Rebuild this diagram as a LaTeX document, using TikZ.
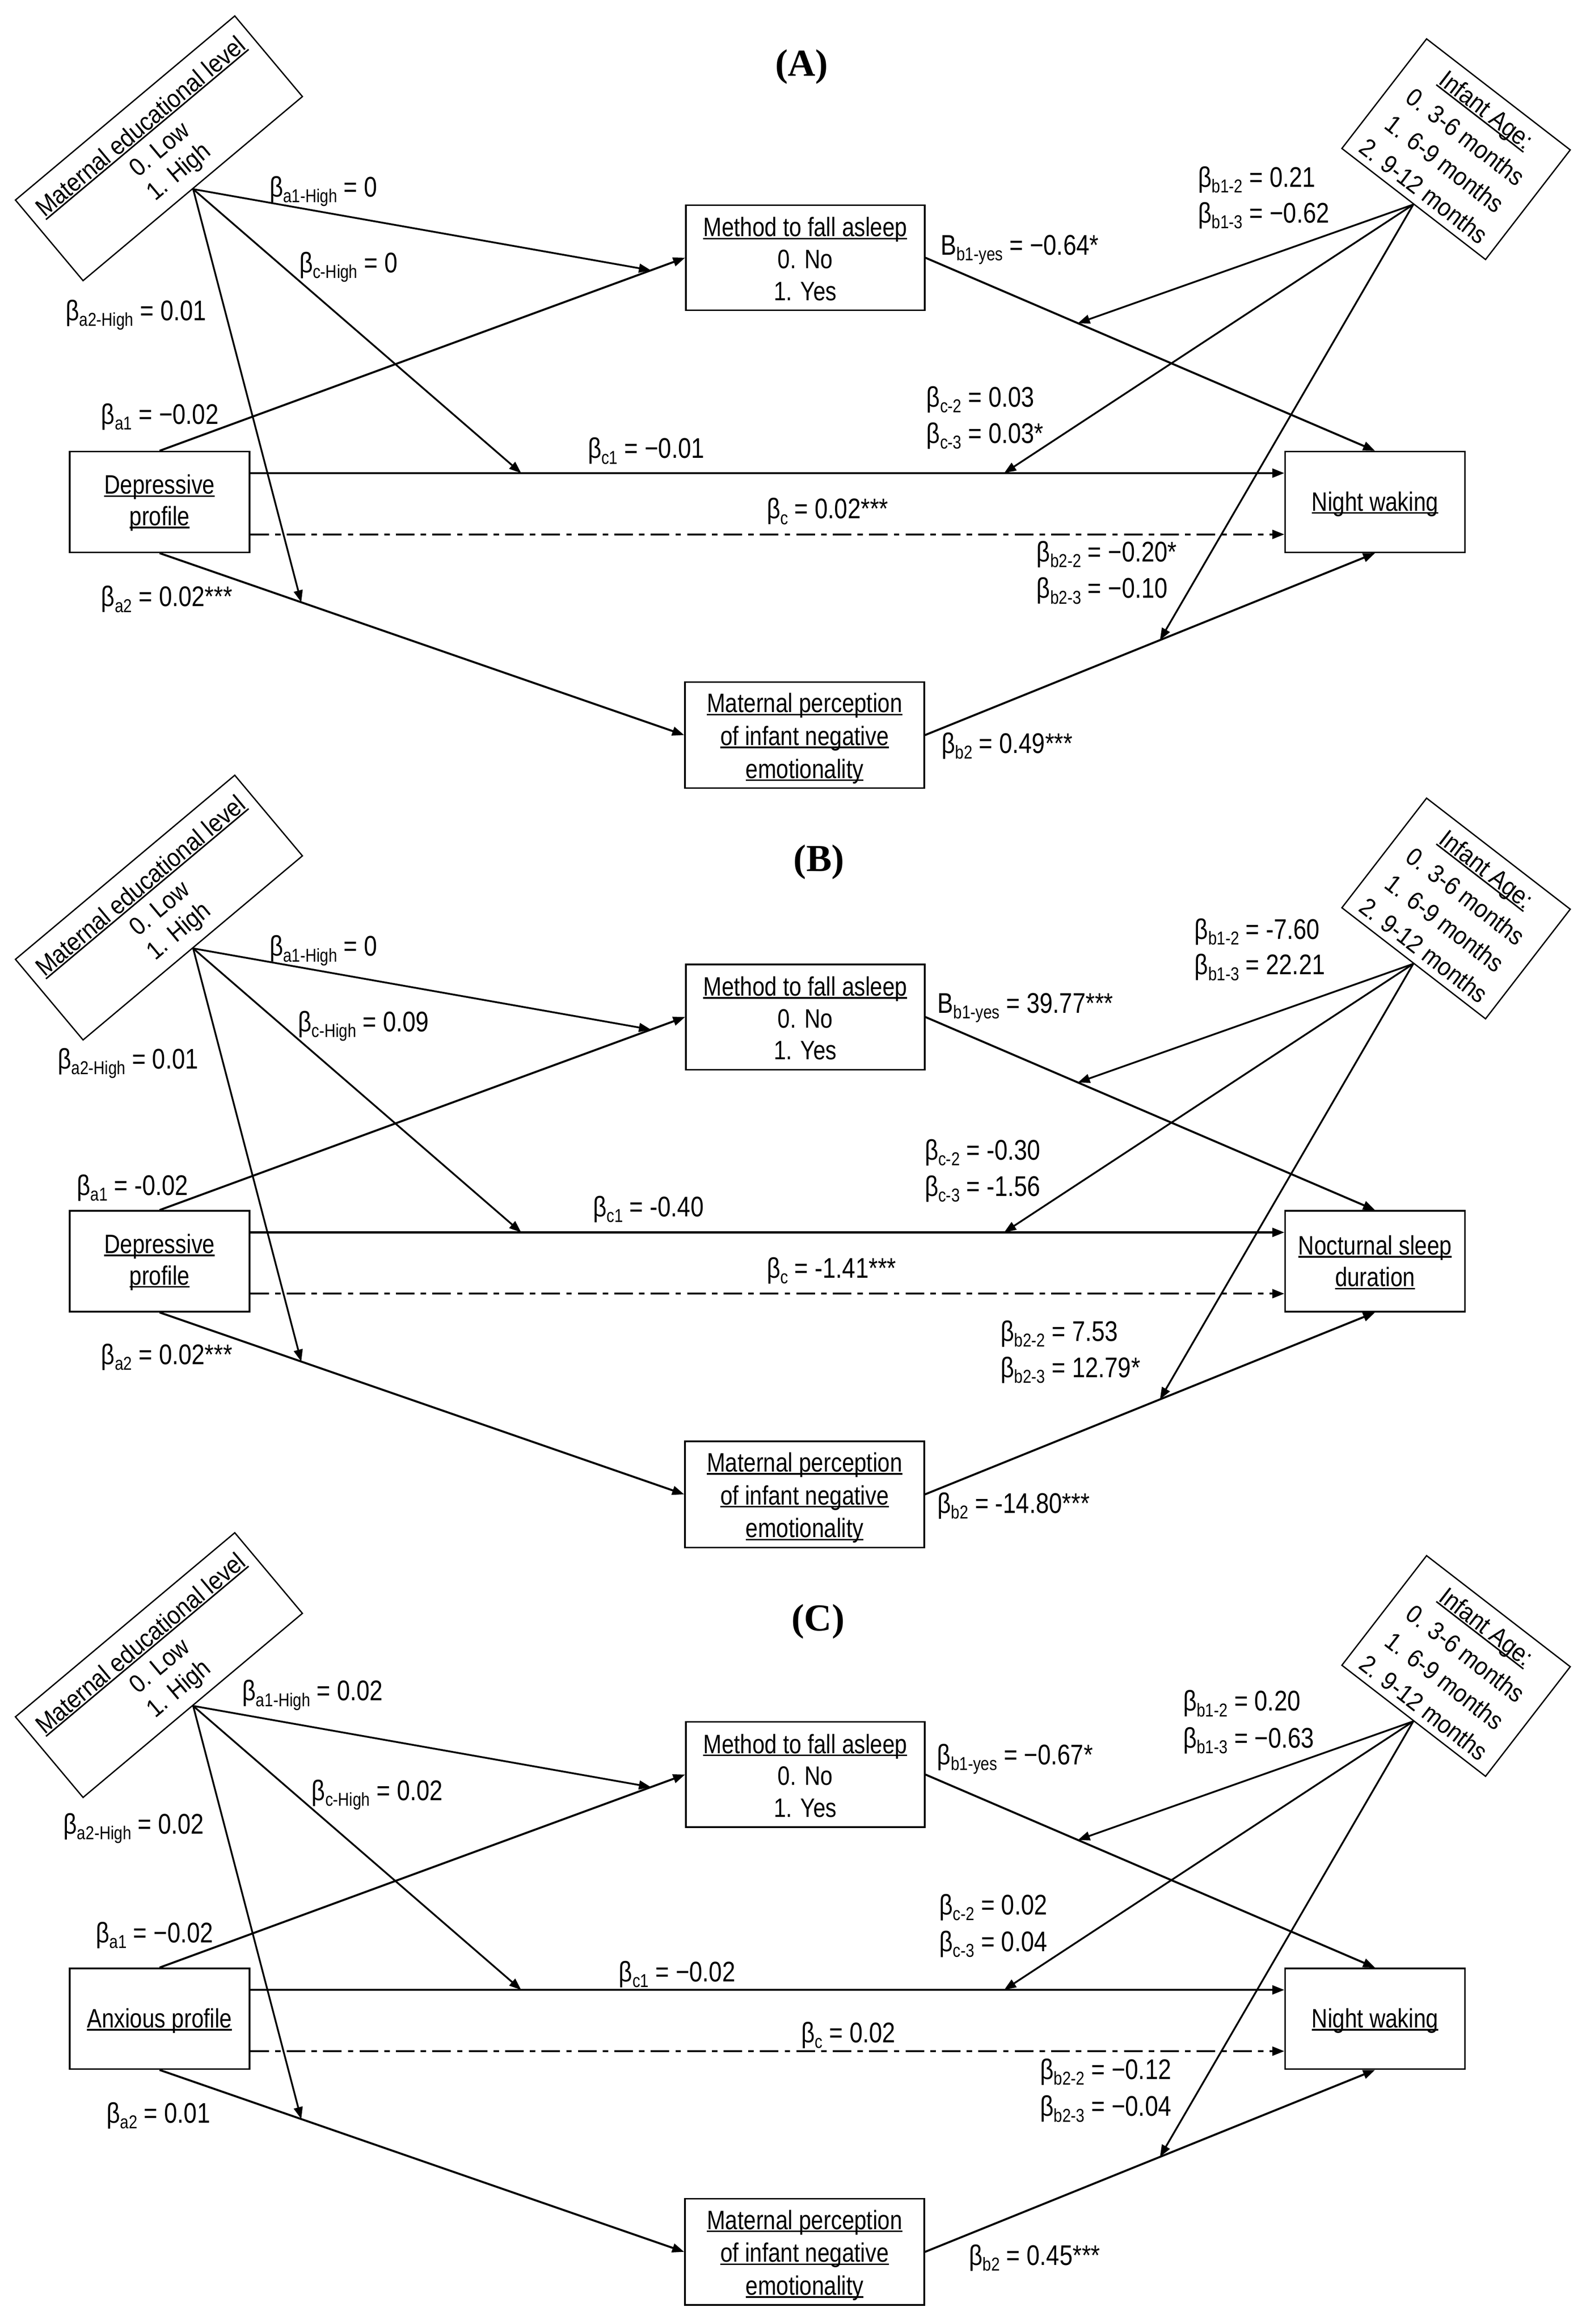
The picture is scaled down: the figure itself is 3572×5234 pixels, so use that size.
\documentclass[tikz,border=0pt]{standalone}
\usepackage{fontspec}
\setmainfont{Liberation Sans}[FakeStretch=0.83]
\newfontfamily\rotfont{Liberation Sans}[FakeStretch=0.9]
\newfontfamily\titlefont{Liberation Serif}
\usetikzlibrary{arrows.meta,calc}
\newlength\ulw
\newcommand\ul[1]{\settowidth{\ulw}{#1}\makebox[0pt][l]{\rule[-0.11em]{\ulw}{0.06em}}#1}
\newcommand\bsub[2]{#1\raisebox{-0.2em}{\fontsize{42}{44}\selectfont #2}}
\tikzset{
 bx/.style={draw, line width=3.5pt, rectangle, inner sep=0pt},
 rbx/.style={draw, line width=3pt, rectangle, inner sep=0pt},
 tx/.style={inner sep=0pt, anchor=base, font=\fontsize{60}{70}\selectfont},
 etx/.style={inner sep=0pt, anchor=center, align=center, font=\rotfont\fontsize{57}{66}\selectfont},
 atx/.style={inner sep=0pt, anchor=center, align=center, font=\rotfont\fontsize{57}{77}\selectfont},
 lab/.style={inner sep=0pt, anchor=base west, font=\fontsize{64}{74}\selectfont},
 pth/.style={line width=4.5pt, -{Triangle[length=27pt,width=20pt]}},
 mod/.style={line width=4pt, -{Triangle[length=27pt,width=20pt]}},
 dd/.style={pth, dash pattern=on 42pt off 14pt on 12pt off 14pt},
 ttl/.style={font=\titlefont\bfseries\fontsize{86}{90}\selectfont, inner sep=0pt}
}
\newcommand\panel[2]{%
 \node[rbx, minimum width=645pt, minimum height=237pt, rotate=40] (edu#1) at (358,#2+334) {};
 \node[rbx, minimum width=409pt, minimum height=312pt, rotate=-37.7] (age#1) at (3280,#2+336) {};
 \node[bx, minimum width=538pt, minimum height=237pt] (meth#1) at (1814,#2+580.5) {};
 \node[bx, minimum width=405pt, minimum height=227pt] (dep#1) at (359.5,#2+1130.5) {};
 \node[bx, minimum width=405pt, minimum height=227pt] (out#1) at (3097.5,#2+1130.5) {};
 \node[bx, minimum width=539pt, minimum height=239pt] (mat#1) at (1812.5,#2+1655.5) {};
 \node[etx, rotate=40] (edut#1) at ($(edu#1.center)!6pt!(edu#1.south)$) {\ul{Maternal educational level}\\0. Low\\1. High};
 \node[atx, rotate=-37.7] (aget#1) at ($(age#1.center)!3pt!(age#1.south)$) {\ul{Infant Age:}\\0. 3-6 months\\1. 6-9 months\\2. 9-12 months};
 \node[tx] (metht1#1) at ($(meth#1.center)+(0,-48)$) {\ul{Method to fall asleep}};
 \node[tx] (metht2#1) at ($(meth#1.center)+(0,24)$) {0. No};
 \node[tx] (metht3#1) at ($(meth#1.center)+(0,96)$) {1. Yes};
 \node[tx] (matt1#1) at ($(mat#1.center)+(0,-51)$) {\ul{Maternal perception}};
 \node[tx] (matt2#1) at ($(mat#1.center)+(0,23)$) {\ul{of infant negative}};
 \node[tx] (matt3#1) at ($(mat#1.center)+(0,97)$) {\ul{emotionality}};
 \draw[pth] (dep#1.north) -- coordinate[pos=0.935] (ma1#1) (meth#1.west);
 \draw[pth] (dep#1.south) -- coordinate[pos=0.27] (ma2#1) (mat#1.west);
 \draw[pth] ($(dep#1.east)+(0,-65)$) -- coordinate[pos=0.262] (mc1#1) coordinate[pos=0.729] (mc2#1) ($(out#1.west)+(0,-65)$);
 \draw[dd] ($(dep#1.east)+(0,73)$) -- ($(out#1.west)+(0,73)$);
 \draw[pth] (meth#1.east) -- coordinate[pos=0.339] (mb1#1) (out#1.north);
 \draw[pth] (mat#1.east) -- coordinate[pos=0.522] (mb2#1) (out#1.south);
 \draw[mod] (edu#1.south) -- (ma1#1);
 \draw[mod] (edu#1.south) -- (mc1#1);
 \draw[mod] (edu#1.south) -- (ma2#1);
 \draw[mod] (age#1.south) -- (mb1#1);
 \draw[mod] (age#1.south) -- (mc2#1);
 \draw[mod] (age#1.south) -- (mb2#1);
}
\begin{document}
\begin{tikzpicture}[x=1pt,y=-1pt]
\useasboundingbox (0,0) rectangle (3572,5234);
% ---------------- Panel A
\node[ttl] (tA) at (1806,150) {(A)};
\panel{A}{0}
\node[tx] (depAt1) at ($(depA.center)+(0,-18)$) {\ul{Depressive}};
\node[tx] (depAt2) at ($(depA.center)+(0,53)$) {\ul{profile}};
\node[tx] (outAt1) at ($(outA.center)+(0,20)$) {\ul{Night waking}};
\node[lab] (lA1) at (607,443) {\bsub{β}{a1-High} = 0};
\node[lab] (lA2) at (674,614) {\bsub{β}{c-High} = 0};
\node[lab] (lA3) at (148,722) {\bsub{β}{a2-High} = 0.01};
\node[lab] (lA4) at (228,955) {\bsub{β}{a1} = −0.02};
\node[lab] (lA5) at (228,1366) {\bsub{β}{a2} = 0.02***};
\node[lab] (lA6) at (1324,1032) {\bsub{β}{c1} = −0.01};
\node[lab] (lA7) at (1727,1168) {\bsub{β}{c} = 0.02***};
\node[lab] (lA8) at (2119,574) {\bsub{B}{b1-yes} = −0.64*};
\node[lab] (lA9) at (2699,421) {\bsub{β}{b1-2} = 0.21};
\node[lab] (lA10) at (2699,502) {\bsub{β}{b1-3} = −0.62};
\node[lab] (lA11) at (2087,916) {\bsub{β}{c-2} = 0.03};
\node[lab] (lA12) at (2087,998) {\bsub{β}{c-3} = 0.03*};
\node[lab] (lA13) at (2335,1265) {\bsub{β}{b2-2} = −0.20*};
\node[lab] (lA14) at (2335,1347) {\bsub{β}{b2-3} = −0.10};
\node[lab] (lA15) at (2121,1696) {\bsub{β}{b2} = 0.49***};
% ---------------- Panel B
\node[ttl] (tB) at (1845,1942) {(B)};
\panel{B}{1710}
\node[tx] (depBt1) at ($(depB.center)+(0,-18)$) {\ul{Depressive}};
\node[tx] (depBt2) at ($(depB.center)+(0,53)$) {\ul{profile}};
\node[tx] (outBt1) at ($(outB.center)+(0,-15)$) {\ul{Nocturnal sleep}};
\node[tx] (outBt2) at ($(outB.center)+(0,57)$) {\ul{duration}};
\node[lab] (lB1) at (607,2153) {\bsub{β}{a1-High} = 0};
\node[lab] (lB2) at (671,2323) {\bsub{β}{c-High} = 0.09};
\node[lab] (lB3) at (130,2407) {\bsub{β}{a2-High} = 0.01};
\node[lab] (lB4) at (173,2692) {\bsub{β}{a1} = -0.02};
\node[lab] (lB5) at (228,3073) {\bsub{β}{a2} = 0.02***};
\node[lab] (lB6) at (1336,2740) {\bsub{β}{c1} = -0.40};
\node[lab] (lB7) at (1727,2878) {\bsub{β}{c} = -1.41***};
\node[lab] (lB8) at (2112,2281) {\bsub{B}{b1-yes} = 39.77***};
\node[lab] (lB9) at (2691,2115) {\bsub{β}{b1-2} = -7.60};
\node[lab] (lB10) at (2691,2195) {\bsub{β}{b1-3} = 22.21};
\node[lab] (lB11) at (2083,2612) {\bsub{β}{c-2} = -0.30};
\node[lab] (lB12) at (2083,2694) {\bsub{β}{c-3} = -1.56};
\node[lab] (lB13) at (2254,3020) {\bsub{β}{b2-2} = 7.53};
\node[lab] (lB14) at (2254,3102) {\bsub{β}{b2-3} = 12.79*};
\node[lab] (lB15) at (2112,3408) {\bsub{β}{b2} = -14.80***};
% ---------------- Panel C
\node[ttl] (tC) at (1843,3652) {(C)};
\panel{C}{3416}
\node[tx] (depCt1) at ($(depC.center)+(0,20)$) {\ul{Anxious profile}};
\node[tx] (outCt1) at ($(outC.center)+(0,20)$) {\ul{Night waking}};
\node[lab] (lC1) at (546,3830) {\bsub{β}{a1-High} = 0.02};
\node[lab] (lC2) at (702,4055) {\bsub{β}{c-High} = 0.02};
\node[lab] (lC3) at (143,4130) {\bsub{β}{a2-High} = 0.02};
\node[lab] (lC4) at (216,4375) {\bsub{β}{a1} = −0.02};
\node[lab] (lC5) at (240,4781) {\bsub{β}{a2} = 0.01};
\node[lab] (lC6) at (1394,4463) {\bsub{β}{c1} = −0.02};
\node[lab] (lC7) at (1805,4600) {\bsub{β}{c} = 0.02};
\node[lab] (lC8) at (2111,3974) {\bsub{β}{b1-yes} = −0.67*};
\node[lab] (lC9) at (2665,3853) {\bsub{β}{b1-2} = 0.20};
\node[lab] (lC10) at (2665,3936) {\bsub{β}{b1-3} = −0.63};
\node[lab] (lC11) at (2116,4312) {\bsub{β}{c-2} = 0.02};
\node[lab] (lC12) at (2116,4395) {\bsub{β}{c-3} = 0.04};
\node[lab] (lC13) at (2343,4683) {\bsub{β}{b2-2} = −0.12};
\node[lab] (lC14) at (2343,4766) {\bsub{β}{b2-3} = −0.04};
\node[lab] (lC15) at (2183,5101) {\bsub{β}{b2} = 0.45***};
\end{tikzpicture}
\end{document}
